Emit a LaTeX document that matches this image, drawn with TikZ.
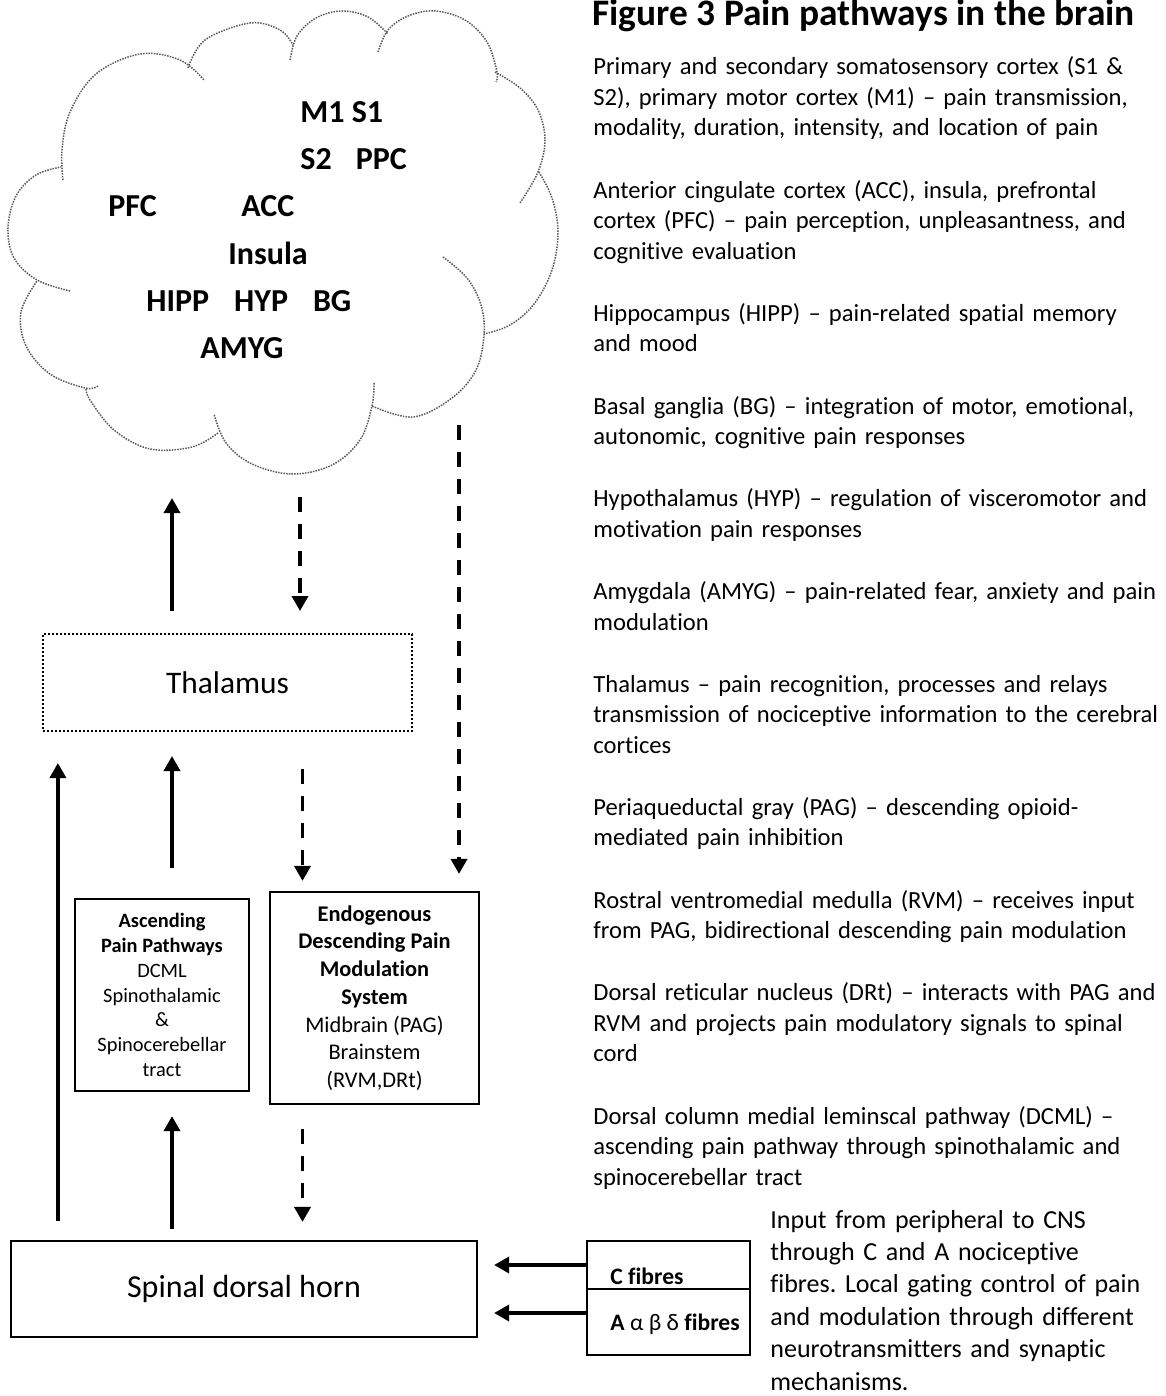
\documentclass[tikz,border=0pt]{standalone}
\usepackage{fontspec}
\setmainfont{Carlito}[Ligatures={TeX,NoCommon}]
\usetikzlibrary{arrows.meta}
\frenchspacing

\begin{document}
\begin{tikzpicture}[
  x=0.5pt, y=-0.5pt,
  >={Triangle[length=7.5pt,width=8pt]},
  cloudline/.style={draw=black!65, line width=0.75pt, dash pattern=on 0.75pt off 0.6pt},
  cloudtxt/.style={anchor=base west, inner sep=0pt, font=\bfseries\fontsize{16}{19}\selectfont},
  plainbox/.style={draw, line width=1.1pt, inner sep=0pt, align=center},
  fibtxt/.style={anchor=base west, inner sep=0pt, font=\bfseries\fontsize{11.8}{14}\selectfont},
  solidarrow/.style={->, line width=1.8pt},
  dasharrow/.style={->, line width=1.8pt, dash pattern=on 7.5pt off 6pt},
  desc/.style={anchor=base west, inner sep=0pt, text width=300pt, align=left,
    font=\fontsize{12.3}{15.25}\selectfont}
]
\useasboundingbox (0,0) rectangle (1166,1396);

% the cloud, one bump at a time
\draw[cloudline] plot[smooth, tension=0.6] coordinates {(63,180) (62,150) (70,112) (96,74) (140,54) (180,60) (204,80)};
\draw[cloudline] plot[smooth, tension=0.6] coordinates {(188,68) (205,40) (250,23) (280,30) (293,45)};
\draw[cloudline] plot[smooth, tension=0.6] coordinates {(290,60) (297,36) (316,18) (342,11) (368,17) (388,34)};
\draw[cloudline] plot[smooth, tension=0.6] coordinates {(378,52) (388,30) (408,16) (435,11) (465,20) (487,42) (497,72) (496,82)};
\draw[cloudline] plot[smooth, tension=0.6] coordinates {(495,72) (520,88) (538,110) (545,140) (538,172) (520,203)};
\draw[cloudline] plot[smooth, tension=0.6] coordinates {(539,172) (552,198) (558,232) (552,270) (534,304) (510,325) (484,334)};
\draw[cloudline] plot[smooth, tension=0.6] coordinates {(443,257) (467,278) (481,305) (484,335) (476,370) (452,398) (413,417) (372,406)};
\draw[cloudline] plot[smooth, tension=0.6] coordinates {(374,383) (372,406) (360,440) (332,465) (292,474) (252,464) (226,443) (214,414)};
\draw[cloudline] plot[smooth, tension=0.6] coordinates {(218,433) (192,447) (150,449) (114,430) (90,400) (86,388)};
\draw[cloudline] plot[smooth, tension=0.6] coordinates {(98,386) (85,388) (50,374) (26,346) (21,312) (37,281)};
\draw[cloudline] plot[smooth, tension=0.6] coordinates {(70,291) (37,280) (14,258) (8,228) (16,196) (36,175) (61,167)};

\node[cloudtxt] (m1s1) at (300,123) {M1 S1};
\node[cloudtxt] (s2ppc) at (300,170) {S2\hspace{12pt}PPC};
\node[cloudtxt] (pfc) at (108,217) {PFC};
\node[cloudtxt] (acc) at (241,217) {ACC};
\node[cloudtxt] (insula) at (228,264) {Insula};
\node[cloudtxt] (hipp) at (146,311) {HIPP\hspace{12.5pt}HYP\hspace{12.5pt}BG};
\node[cloudtxt] (amyg) at (200,358) {AMYG};

\coordinate (cloudA) at (172,498);
\coordinate (cloudB) at (300,497);
\coordinate (cloudC) at (459,425);

% boxes
\node[plainbox, line width=1pt, dash pattern=on 1pt off 1pt, minimum width=184.5pt, minimum height=48.5pt,
  font=\fontsize{15.7}{19}\selectfont] (thal) at (227.5,682.5) {Thalamus};
\node[plainbox, minimum width=87pt, minimum height=96pt, font=\fontsize{10.2}{12.4}\selectfont] (asc) at (162,995)
  {\textbf{Ascending}\\\textbf{Pain Pathways}\\DCML\\Spinothalamic\\\&\\Spinocerebellar\\tract};
\node[plainbox, minimum width=104.5pt, minimum height=106pt, font=\fontsize{11.2}{13.85}\selectfont] (endog) at (374.5,998)
  {\textbf{Endogenous}\\\textbf{Descending Pain}\\\textbf{Modulation}\\\textbf{System}\\Midbrain (PAG)\\Brainstem\\(RVM,DRt)};
\node[plainbox, minimum width=233pt, minimum height=48pt, font=\fontsize{16}{19}\selectfont] (spinal) at (244,1289) {Spinal dorsal horn};
\node[plainbox, minimum width=81.5pt, minimum height=24pt] (cfib) at (668.5,1265) {};
\node[plainbox, minimum width=81.5pt, minimum height=33pt] (afib) at (668.5,1322) {};
\node[fibtxt] (ctxt) at (610,1284.5) {C fibres};
\node[fibtxt] (atxt) at (610,1330.5) {A {\mdseries α} {\mdseries β} {\mdseries δ} fibres};

% arrows
\draw[solidarrow, shorten <=11pt] (thal.north -| cloudA) -- (cloudA);
\draw[dasharrow, shorten >=11pt] (cloudB) -- (cloudB |- thal.north);
\draw[dasharrow, shorten >=8.5pt] (cloudC) -- (cloudC |- endog.north);
\draw[solidarrow, shorten <=9.5pt, shorten >=15.5pt] ([xshift=24pt]spinal.north west) -- ([xshift=24pt]spinal.north west |- thal.south);
\draw[solidarrow, shorten <=15pt, shorten >=12pt] ([xshift=5pt]asc.north) -- ([xshift=5pt]asc.north |- thal.south);
\draw[dasharrow, shorten <=18.5pt, shorten >=5pt] ([xshift=-36pt]endog.north |- thal.south) -- ([xshift=-36pt]endog.north);
\draw[solidarrow, shorten <=5.5pt, shorten >=12pt] ([xshift=5pt]asc.south |- spinal.north) -- ([xshift=5pt]asc.south);
\draw[dasharrow, shorten <=12pt, shorten >=9pt] ([xshift=-36pt]endog.south) -- ([xshift=-36pt]endog.south |- spinal.north);
\draw[solidarrow, shorten >=8pt] (cfib.west) -- (cfib.west -| spinal.east);
\draw[solidarrow, shorten >=8pt] ([yshift=4.5pt]afib.west) -- ([yshift=4.5pt]afib.west -| spinal.east);

% right hand text
\node[anchor=base west, inner sep=0pt, font=\bfseries\fontsize{18.7}{22}\selectfont] (title) at (592,26) {Figure 3 Pain pathways in the brain};
\foreach \y/\txt [count=\i] in {
  75/{Primary and secondary somatosensory cortex (S1 \&\\S2), primary motor cortex (M1) – pain transmission,\\modality, duration, intensity, and location of pain},
  198.2/{Anterior cingulate cortex (ACC), insula, prefrontal\\cortex (PFC) – pain perception, unpleasantness, and\\cognitive evaluation},
  321.4/{Hippocampus (HIPP) – pain-related spatial memory\\and mood},
  414.1/{Basal ganglia (BG) – integration of motor, emotional,\\autonomic, cognitive pain responses},
  506.8/{Hypothalamus (HYP) – regulation of visceromotor and\\motivation pain responses},
  599.5/{Amygdala (AMYG) – pain-related fear, anxiety and pain\\modulation},
  692.2/{Thalamus – pain recognition, processes and relays\\transmission of nociceptive information to the cerebral\\cortices},
  815.4/{Periaqueductal gray (PAG) – descending opioid-\\mediated pain inhibition},
  908.1/{Rostral ventromedial medulla (RVM) – receives input\\from PAG, bidirectional descending pain modulation},
  1000.8/{Dorsal reticular nucleus (DRt) – interacts with PAG and\\RVM and projects pain modulatory signals to spinal\\cord},
  1124/{Dorsal column medial leminscal pathway (DCML) –\\ascending pain pathway through spinothalamic and\\spinocerebellar tract}
} \node[desc] (desc\i) at (593,\y) {\txt};
\node[desc, font=\fontsize{13}{16.2}\selectfont] (input) at (770,1228)
  {Input from peripheral to CNS\\through C and A nociceptive\\fibres. Local gating control of pain\\and modulation through different\\neurotransmitters and synaptic\\mechanisms.};

\end{tikzpicture}
\end{document}
